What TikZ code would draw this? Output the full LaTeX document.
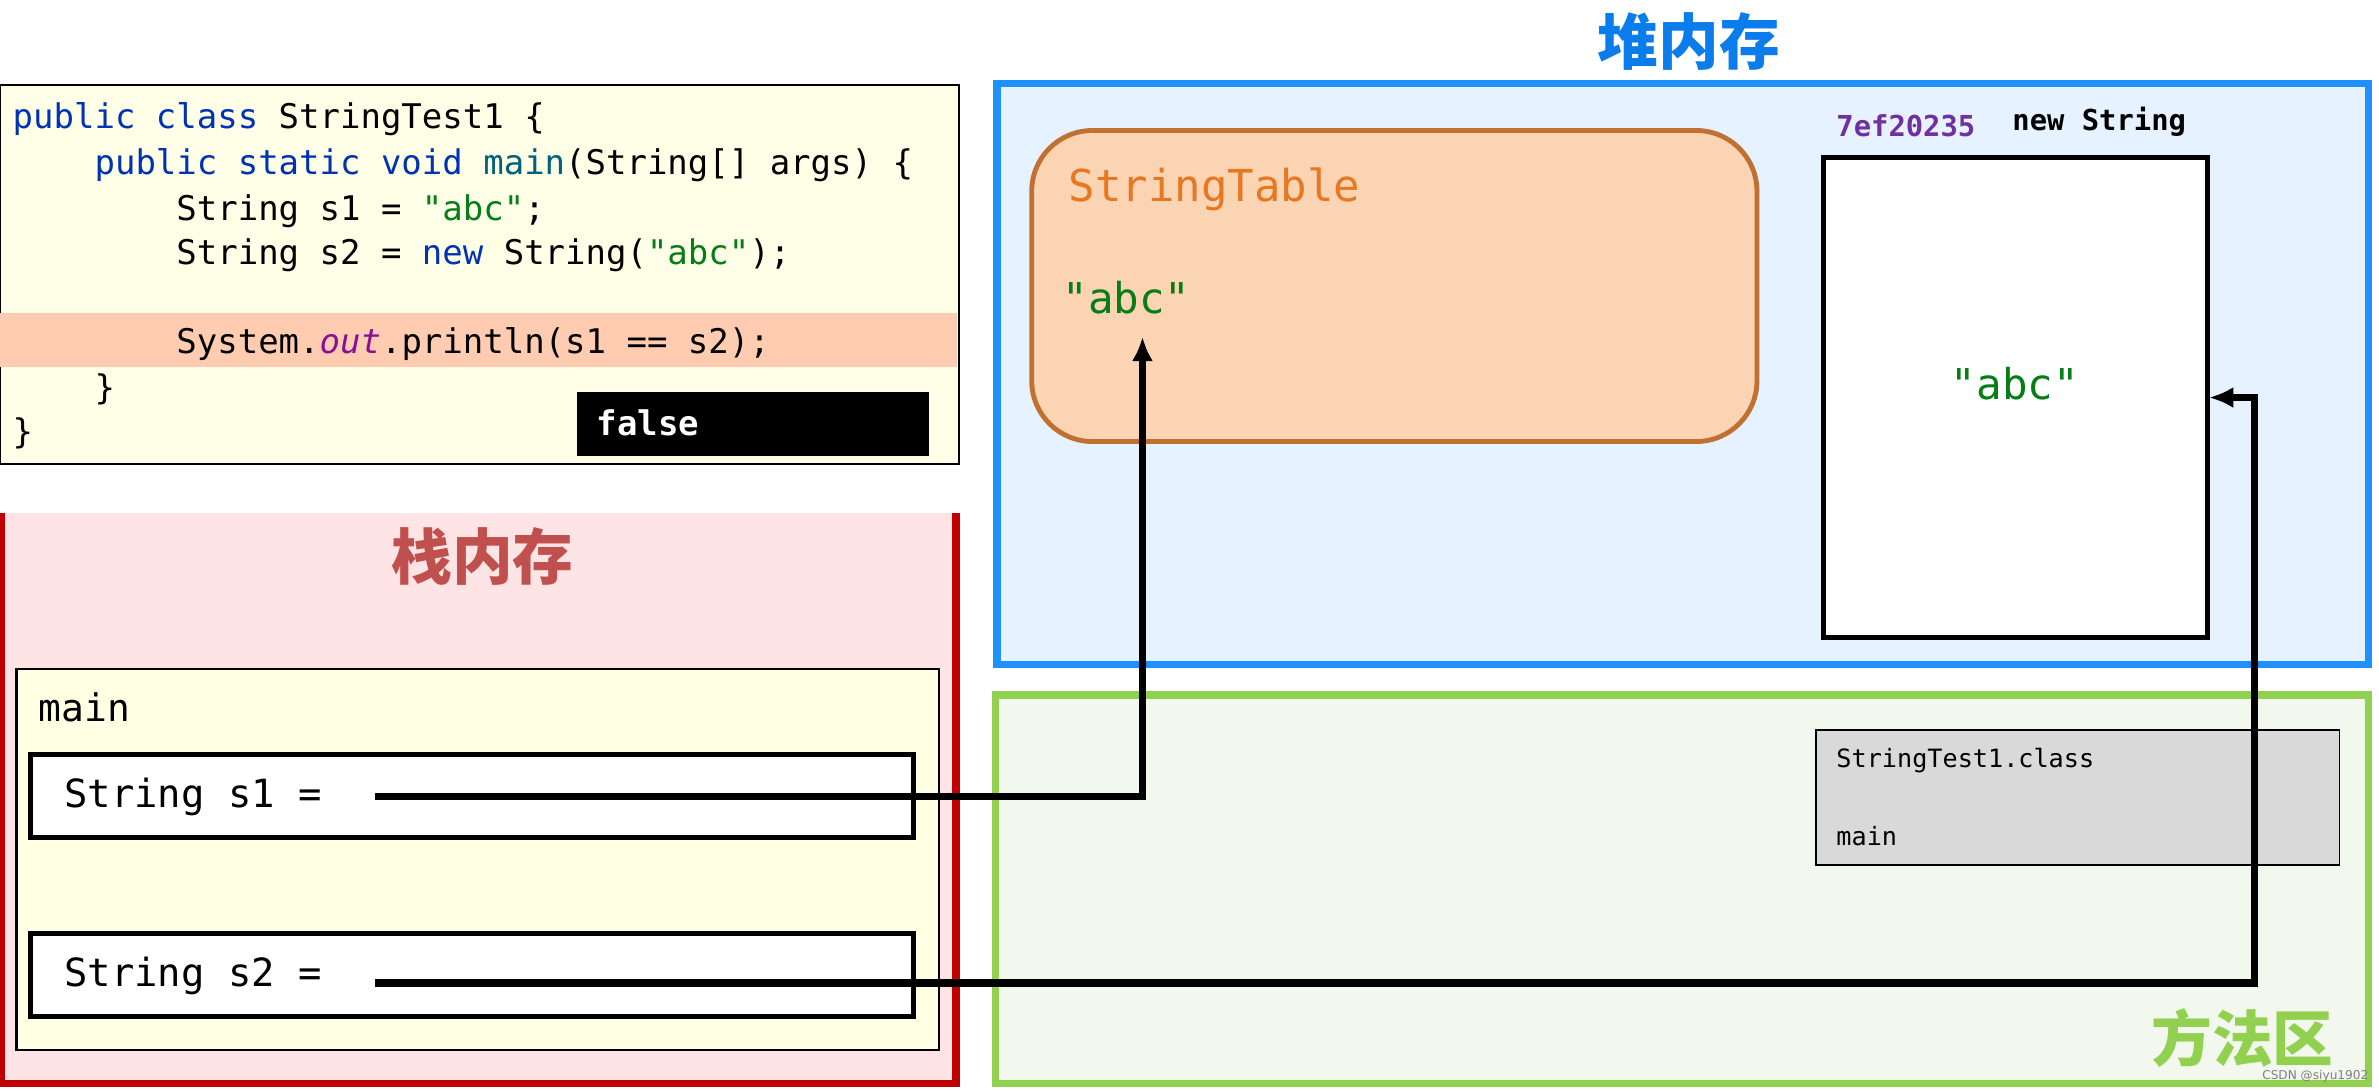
\documentclass[tikz,border=0pt]{standalone}
\usepackage{fontspec}
\setmainfont{DejaVu Sans}
\setmonofont{DejaVu Sans Mono}
\newfontfamily\cjk{Noto Sans CJK SC}
\usetikzlibrary{arrows.meta}
\definecolor{kw}{HTML}{0033B3}
\definecolor{fn}{HTML}{00627A}
\definecolor{st}{HTML}{067D17}
\definecolor{pu}{HTML}{871094}
\definecolor{codebg}{RGB}{255,255,232}
\definecolor{hl}{RGB}{255,204,178}
\definecolor{stkbg}{RGB}{255,228,230}
\definecolor{stkln}{RGB}{192,0,0}
\definecolor{stkt}{RGB}{192,80,77}
\definecolor{mainbg}{RGB}{255,255,228}
\definecolor{heapbg}{RGB}{230,242,255}
\definecolor{heapln}{RGB}{30,144,255}
\definecolor{heapt}{RGB}{10,124,235}
\definecolor{tblbg}{RGB}{251,212,180}
\definecolor{tblln}{RGB}{192,112,48}
\definecolor{tblt}{RGB}{232,119,34}
\definecolor{addr}{RGB}{112,48,160}
\definecolor{mabg}{RGB}{242,248,238}
\definecolor{maln}{RGB}{146,208,80}
\definecolor{clsbg}{RGB}{217,217,217}
\begin{document}
\begin{tikzpicture}[x=0.5pt,y=-0.5pt,
  code/.style={anchor=base west,inner sep=0,font=\ttfamily\fontsize{11.2}{13}\selectfont},
  ref/.style={draw=black,line width=2.5pt},
  refarrow/.style={ref,-{Latex[length=8pt,width=7pt]}},
  varbox/.style={draw=black,line width=1.6pt,fill=white}]
\useasboundingbox (0,0) rectangle (1568,719);
\fill[white] (0,0) rectangle (1568,719);
% code
\draw[fill=codebg,line width=0.6pt] (0,56) rectangle (632,306);
\fill[hl] (0,206) rectangle (631,242);
\node[code] (c1) at (8,85) {\textcolor{kw}{public class} StringTest1 \{};
\node[code] (c2) at (8,115) {\textcolor{kw}{\ \ \ \ public static void} \textcolor{fn}{main}(String[] args) \{};
\node[code] (c3) at (8,145) {\ \ \ \ \ \ \ \ String s1 = \textcolor{st}{"abc"};};
\node[code] (c4) at (8,174) {\ \ \ \ \ \ \ \ String s2 = \textcolor{kw}{new} String(\textcolor{st}{"abc"});};
\node[code] (c5) at (8,233) {\ \ \ \ \ \ \ \ System.\textcolor{pu}{\itshape out}.println(s1 == s2);};
\node[code] (c6) at (8,263) {\ \ \ \ \}};
\node[code] (c7) at (8,292) {\}};
\node[fill=black,minimum width=116pt,minimum height=21pt,anchor=north west,inner sep=0] (false) at (380,258) {};
\node[anchor=west,inner sep=0,text=white,font=\ttfamily\bfseries\fontsize{11.2}{13}\selectfont] (falset) at (393,279) {false};
% stack
\fill[stkbg] (0,338) rectangle (630,714);
\draw[stkln,line width=2.5pt] (1,338) -- (1,714) -- (630,714) -- (630,338);
\node[text=stkt,font=\cjk\bfseries\fontsize{20}{24}\selectfont] (stk) at (318,367) {栈内存};
\draw[fill=mainbg,line width=0.8pt] (11,441) rectangle (619,692);
\node[anchor=west,inner sep=0,font=\ttfamily\fontsize{12.5}{14}\selectfont] (main) at (25,466) {main};
\draw[varbox] (20,497) rectangle (602,552);
\draw[varbox] (20,615) rectangle (602,670);
\node[anchor=west,inner sep=0,font=\ttfamily\fontsize{12.8}{14}\selectfont] (s1) at (42,525) {String s1 =};
\node[anchor=west,inner sep=0,font=\ttfamily\fontsize{12.8}{14}\selectfont] (s2) at (42,643) {String s2 =};
% heap
\draw[fill=heapbg,draw=heapln,line width=2.5pt] (657,55) rectangle (1561,438);
\node[text=heapt,font=\cjk\bfseries\fontsize{20}{24}\selectfont] (heap) at (1113,27) {堆内存};
\draw[fill=tblbg,draw=tblln,line width=1.6pt,rounded corners=20pt] (680,86) rectangle (1158,291);
\node[anchor=west,inner sep=0,text=tblt,font=\ttfamily\fontsize{14.5}{16}\selectfont] (stt) at (704,125) {StringTable};
\node[anchor=west,inner sep=0,text=st,font=\ttfamily\fontsize{14}{16}\selectfont] (abc1) at (700,196) {"abc"};
\draw[varbox] (1202,104) rectangle (1455,420);
\node[anchor=west,inner sep=0,text=addr,font=\ttfamily\bfseries\fontsize{9.5}{11}\selectfont] (addr) at (1210,83) {7ef20235};
\node[anchor=west,inner sep=0,font=\ttfamily\bfseries\fontsize{9.5}{11}\selectfont] (ns) at (1326,80) {new String};
\node[text=st,font=\ttfamily\fontsize{14}{16}\selectfont] (abc2) at (1328,253) {"abc"};
% method area
\draw[fill=mabg,draw=maln,line width=2.5pt] (656,458) rectangle (1561,714);
\node[text=maln,font=\cjk\bfseries\fontsize{20}{24}\selectfont] (ma) at (1478,684) {方法区};
\draw[fill=clsbg,line width=0.6pt] (1197,481) rectangle (1542,570);
\node[anchor=west,inner sep=0,font=\ttfamily\fontsize{8.3}{10}\selectfont] (cls) at (1210,501) {StringTest1.class};
\node[anchor=west,inner sep=0,font=\ttfamily\fontsize{8.3}{10}\selectfont] (clsm) at (1210,551) {main};
\node[text=gray,inner sep=0,font=\fontsize{4}{5}\selectfont] (wm) at (1526,709) {CSDN @siyu1902};
% references
\coordinate (p1) at (247,525);
\coordinate (t1) at (753,222);
\coordinate (p2) at (247,648);
\coordinate (t2) at (1456,262);
\draw[refarrow] (p1) -| (t1);
\draw[refarrow] (p2) -- (1486,648) |- (t2);
\end{tikzpicture}
\end{document}
